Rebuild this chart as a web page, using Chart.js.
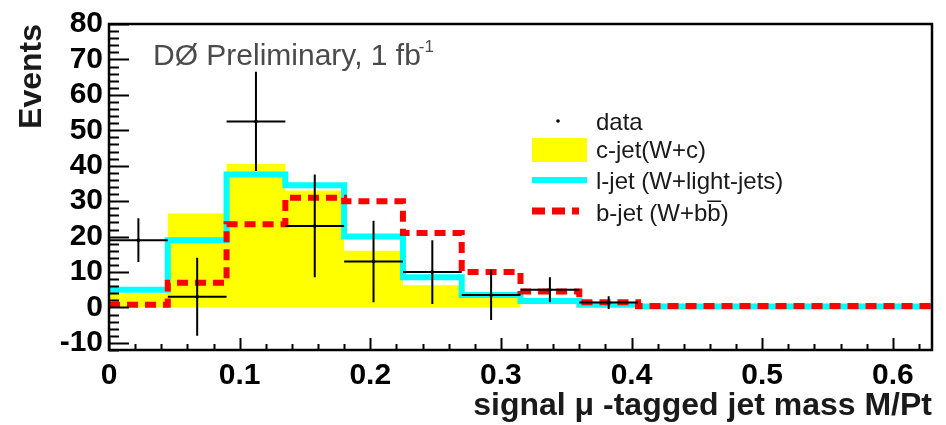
<!DOCTYPE html>
<html>
<head>
<meta charset="utf-8">
<script src="https://cdn.jsdelivr.net/npm/chart.js@4.4.1/dist/chart.umd.min.js"></script>
<style>
  html, body { margin: 0; padding: 0; background: #fff; }
  #wrap { width: 946px; height: 425px; }
</style>
</head>
<body>
<div id="wrap"><canvas id="c" width="946" height="425"></canvas></div>
<script>
// bins of the muon-tagged jet mass M/Pt (left edges), width 0.045
const binLow = [0, 0.045, 0.09, 0.135, 0.18, 0.225, 0.27, 0.315, 0.36, 0.405, 0.45, 0.495, 0.54, 0.585];
const binWidth = 0.045;
const xMax = 0.63;

// templates
const cJet = [4, 26.5, 40.5, 33, 16, 6.3, 3, 0, 0, 0, 0, 0, 0, 0];
const lJet = [5, 19, 37.5, 34.5, 20, 8.5, 3.5, 1.8, 0.8, 0.3, 0.3, 0.3, 0.3, 0.3];
const bJet = [0.8, 7, 23.5, 31, 30, 21, 10, 4.5, 1.5, 0.4, 0.4, 0.4, 0.4, 0.4];

// data points (first 9 bins) and their errors
const dataY = [19, 3, 52.5, 23, 13, 10, 3.5, 5, 1.4];
const dataErr = [6.2, 11, 14, 14.5, 11.5, 9, 7, 3.5, 1.8];

const xTicks = [0, 0.1, 0.2, 0.3, 0.4, 0.5, 0.6];
const yTicks = [-10, 0, 10, 20, 30, 40, 50, 60, 70, 80];

const FONT = "'Liberation Sans', Arial, sans-serif";

function histPoints(vals) {
  const pts = vals.map((v, i) => ({ x: binLow[i], y: v }));
  pts.push({ x: xMax, y: vals[vals.length - 1] });
  return pts;
}

const dataPoints = dataY.map((v, i) => ({ x: binLow[i] + binWidth / 2, y: v }));

// error bars for the data
const errorBars = {
  id: 'errorBars',
  afterDatasetsDraw(chart) {
    const { ctx, scales: { x, y } } = chart;
    ctx.save();
    ctx.strokeStyle = '#000';
    ctx.lineWidth = 2;
    ctx.beginPath();
    dataY.forEach((v, i) => {
      const cx = x.getPixelForValue(binLow[i] + binWidth / 2);
      const cy = y.getPixelForValue(v);
      ctx.moveTo(cx, y.getPixelForValue(v - dataErr[i]));
      ctx.lineTo(cx, y.getPixelForValue(v + dataErr[i]));
      ctx.moveTo(x.getPixelForValue(binLow[i]), cy);
      ctx.lineTo(x.getPixelForValue(binLow[i] + binWidth), cy);
    });
    ctx.stroke();
    ctx.restore();
  }
};

// frame and inward ticks, ROOT style
const frameTicks = {
  id: 'frameTicks',
  afterDatasetsDraw(chart) {
    const { ctx, chartArea: a, scales: { x, y } } = chart;
    ctx.save();
    ctx.strokeStyle = '#000';
    ctx.lineWidth = 2;
    ctx.beginPath();
    for (let v = -12; v <= 80; v += 2) {
      const py = Math.round(y.getPixelForValue(v)) + 0.5;
      const len = v % 10 === 0 ? 20 : 10;
      ctx.moveTo(a.left, py);
      ctx.lineTo(a.left + len, py);
    }
    for (let i = 0; i <= 31; i++) {
      const px = Math.round(x.getPixelForValue(i * 0.02)) + 0.5;
      const len = i % 5 === 0 ? 12 : 6;
      ctx.moveTo(px, a.bottom);
      ctx.lineTo(px, a.bottom - len);
    }
    ctx.stroke();
    ctx.lineWidth = 2.5;
    ctx.strokeRect(a.left, a.top, a.right - a.left, a.bottom - a.top);
    ctx.restore();
  }
};

// legend and label text
const labels = {
  id: 'labels',
  afterDraw(chart) {
    const { ctx } = chart;
    ctx.save();
    ctx.fillStyle = '#4a4a4a';
    ctx.font = '30px ' + FONT;
    ctx.textBaseline = 'alphabetic';
    const txt = 'DØ Preliminary, 1 fb';
    ctx.fillText(txt, 153, 65);
    const w = ctx.measureText(txt).width;
    ctx.font = '17px ' + FONT;
    ctx.fillText('-1', 153 + w - 2, 52);

    ctx.fillStyle = '#000';
    ctx.beginPath();
    ctx.arc(558, 121, 1.8, 0, Math.PI * 2);
    ctx.fill();

    ctx.fillStyle = '#ffff00';
    ctx.fillRect(532, 138, 55, 24);

    ctx.strokeStyle = '#00ffff';
    ctx.lineWidth = 6;
    ctx.beginPath();
    ctx.moveTo(532, 180);
    ctx.lineTo(587, 180);
    ctx.stroke();

    ctx.strokeStyle = '#ff0000';
    ctx.lineWidth = 7;
    ctx.setLineDash([13, 7]);
    ctx.beginPath();
    ctx.moveTo(532, 211);
    ctx.lineTo(579, 211);
    ctx.stroke();
    ctx.setLineDash([]);

    ctx.fillStyle = '#1a1a1a';
    ctx.font = '24px ' + FONT;
    ctx.textBaseline = 'middle';
    ctx.fillText('data', 596, 123);
    ctx.fillText('c-jet(W+c)', 596, 151);
    ctx.fillText('l-jet (W+light-jets)', 596, 182);
    ctx.fillText('b-jet (W+bb\u0305)', 596, 214);
    ctx.restore();
  }
};

new Chart(document.getElementById('c'), {
  type: 'line',
  data: {
    datasets: [
      {
        label: 'data',
        data: dataPoints,
        showLine: false,
        pointRadius: 1.5,
        pointBackgroundColor: '#000',
        pointBorderColor: '#000'
      },
      {
        label: 'b-jet (W+bb)',
        data: histPoints(bJet),
        stepped: true,
        borderColor: '#ff0000',
        borderWidth: 6,
        borderDash: [11, 7],
        pointRadius: 0,
        fill: false
      },
      {
        label: 'l-jet (W+light-jets)',
        data: histPoints(lJet),
        stepped: true,
        borderColor: '#00ffff',
        borderWidth: 6,
        pointRadius: 0,
        fill: false
      },
      {
        label: 'c-jet(W+c)',
        data: histPoints(cJet),
        stepped: true,
        borderWidth: 0,
        borderColor: 'rgba(0,0,0,0)',
        backgroundColor: '#ffff00',
        pointRadius: 0,
        fill: 'origin'
      }
    ]
  },
  options: {
    responsive: false,
    animation: false,
    devicePixelRatio: 1,
    events: [],
    layout: { padding: { top: 17, right: 14, bottom: 0, left: 0 } },
    plugins: {
      legend: { display: false },
      tooltip: { enabled: false }
    },
    scales: {
      x: {
        type: 'linear',
        min: 0,
        max: xMax,
        afterFit: s => { s.height = 75; },
        afterBuildTicks: s => { s.ticks = xTicks.map(v => ({ value: v })); },
        grid: { display: false, drawTicks: false },
        border: { display: false },
        ticks: {
          autoSkip: false,
          maxRotation: 0,
          padding: 8,
          color: '#000',
          font: { family: FONT, size: 30, weight: 'bold' },
          callback: v => String(v)
        },
        title: {
          display: true,
          text: 'signal \u03bc -tagged jet mass M/Pt',
          align: 'end',
          color: '#1a1a1a',
          padding: { top: 0, bottom: 0 },
          font: { family: FONT, size: 32, weight: 'bold' }
        }
      },
      y: {
        type: 'linear',
        min: -12,
        max: 80,
        afterFit: s => { s.width = 109; },
        afterBuildTicks: s => { s.ticks = yTicks.map(v => ({ value: v })); },
        grid: { display: false, drawTicks: false },
        border: { display: false },
        ticks: {
          autoSkip: false,
          padding: 6,
          color: '#000',
          font: { family: FONT, size: 30, weight: 'bold' },
          callback: v => String(v)
        },
        title: {
          display: true,
          text: 'Events',
          align: 'end',
          color: '#1a1a1a',
          padding: { top: 13, bottom: 0 },
          font: { family: FONT, size: 32, weight: 'bold' }
        }
      }
    }
  },
  plugins: [errorBars, frameTicks, labels]
});
</script>
</body>
</html>
